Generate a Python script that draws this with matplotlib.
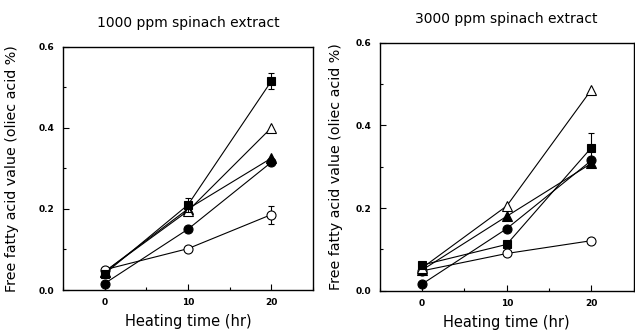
import matplotlib
matplotlib.use("Agg")
import matplotlib.pyplot as plt
from matplotlib.ticker import MultipleLocator

time_hr = [0, 10, 20]

# 1000 ppm spinach extract
p1_sq_fill = [0.040, 0.210, 0.515]
p1_sq_fill_err = [0.005, 0.018, 0.020]
p1_tri_open = [0.045, 0.195, 0.400]
p1_tri_fill = [0.045, 0.200, 0.325]
p1_circ_fill = [0.016, 0.150, 0.315]
p1_circ_open = [0.050, 0.102, 0.186]
p1_circ_open_err = [0.004, 0.005, 0.022]

# 3000 ppm spinach extract
p2_tri_open = [0.055, 0.205, 0.486]
p2_sq_fill = [0.062, 0.112, 0.346]
p2_sq_fill_err = [0.004, 0.006, 0.036]
p2_circ_fill = [0.016, 0.150, 0.315]
p2_tri_fill = [0.050, 0.180, 0.308]
p2_circ_open = [0.048, 0.090, 0.121]

titles = ["1000 ppm spinach extract", "3000 ppm spinach extract"]
xlabel = "Heating time (hr)"
ylabel = "Free fatty acid value (oliec acid %)"

fig = plt.figure(figsize=(6.35, 3.33), dpi=100)
ax1 = fig.add_axes([0.099, 0.129, 0.394, 0.731])
ax2 = fig.add_axes([0.598, 0.127, 0.400, 0.745])

lw = 0.8
ms_sq = 6.0

def series(ax, y, marker, filled, err=None, ms=6.5):
    mfc = 'black' if filled else 'white'
    if err is None:
        ax.plot(time_hr, y, color='black', lw=lw, marker=marker, ms=ms,
                mfc=mfc, mec='black', mew=0.8, zorder=3)
    else:
        ax.errorbar(time_hr, y, yerr=err, color='black', lw=lw, marker=marker,
                    ms=ms, mfc=mfc, mec='black', mew=0.8, capsize=2.5,
                    elinewidth=0.8, capthick=0.8, zorder=3)

series(ax1, p1_circ_open, 'o', False, p1_circ_open_err)
series(ax1, p1_circ_fill, 'o', True)
series(ax1, p1_tri_fill, '^', True)
series(ax1, p1_tri_open, '^', False)
series(ax1, p1_sq_fill, 's', True, p1_sq_fill_err, ms=ms_sq)

series(ax2, p2_circ_open, 'o', False)
series(ax2, p2_circ_fill, 'o', True)
series(ax2, p2_tri_fill, '^', True)
series(ax2, p2_sq_fill, 's', True, p2_sq_fill_err, ms=ms_sq)
series(ax2, p2_tri_open, '^', False)

for ax, t, lp in zip([ax1, ax2], titles, [14, 9]):
    ax.set_xlim(-5, 25)
    ax.set_ylim(0, 0.6)
    ax.set_xticks([0, 10, 20])
    ax.xaxis.set_minor_locator(MultipleLocator(5))
    ax.set_yticks([0.0, 0.2, 0.4, 0.6])
    ax.yaxis.set_minor_locator(MultipleLocator(0.1))
    ax.set_yticklabels(['0.0', '0.2', '0.4', '0.6'])
    ax.tick_params(direction='in', which='both', labelsize=6.5, width=0.8)
    ax.tick_params(which='major', length=4, pad=6)
    ax.tick_params(which='minor', length=2.5)
    for lab in ax.get_xticklabels() + ax.get_yticklabels():
        lab.set_fontweight('bold')
    for s in ax.spines.values():
        s.set_linewidth(1.0)
    ax.set_xlabel(xlabel, fontsize=10.5, labelpad=5)
    ax.set_ylabel(ylabel, fontsize=10.3, labelpad=lp)
    ax.set_title(t, fontsize=10, pad=14)

fig.savefig("out.png", dpi=100)
